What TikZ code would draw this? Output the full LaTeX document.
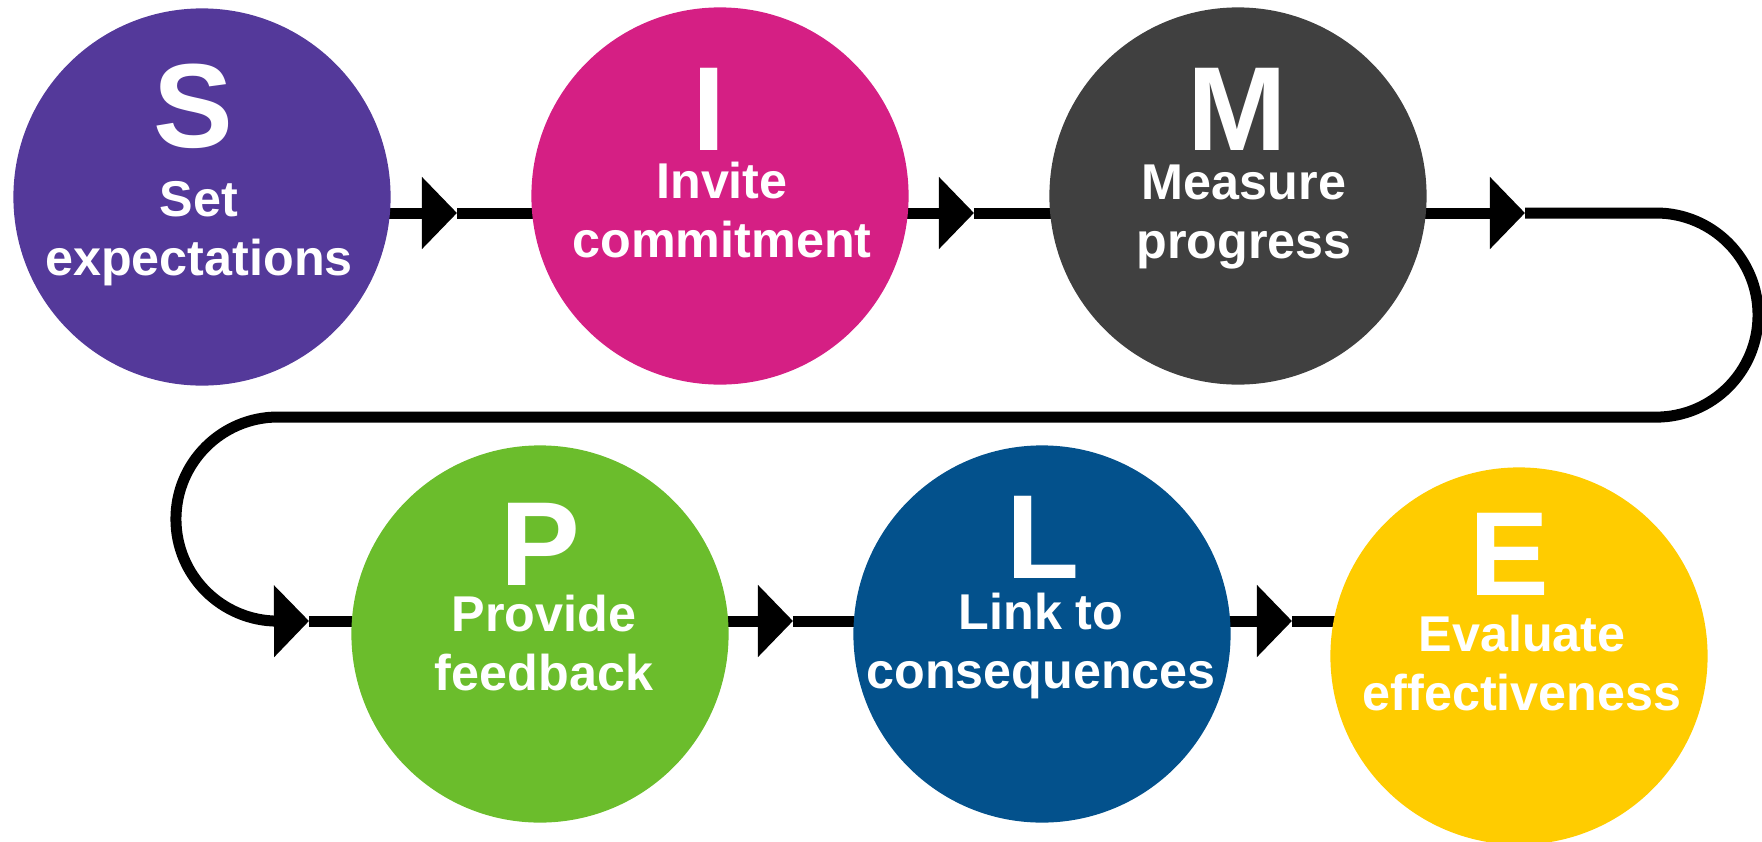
\documentclass[tikz,border=0pt]{standalone}
\usepackage{fontspec}
\setmainfont{Liberation Sans}
\usetikzlibrary{arrows.meta,backgrounds}
\definecolor{cS}{RGB}{84,57,154}
\definecolor{cI}{RGB}{213,31,132}
\definecolor{cM}{RGB}{64,64,64}
\definecolor{cP}{RGB}{107,189,44}
\definecolor{cL}{RGB}{3,81,140}
\definecolor{cE}{RGB}{255,204,0}
\tikzset{
  bubble/.style={circle, draw=none, minimum size=3.77cm, inner sep=0pt},
  bigletter/.style={text=white, font=\bfseries\fontsize{34}{34}\selectfont, inner sep=0pt, anchor=base},
  lab/.style={text=white, font=\bfseries\fontsize{14.3}{16.5}\selectfont, align=center, inner sep=0pt, anchor=base},
  conn/.style={line width=3.13pt, black},
  arr/.style={-{Triangle[length=0.35cm,width=0.70cm]}}
}
\begin{document}
\begin{tikzpicture}[x=0.01cm,y=-0.01cm]
\useasboundingbox (0,0) rectangle (1762,842);
% circles
\node[bubble, fill=cS] (S) at (202,197) {};
\node[bubble, fill=cI] (I) at (720,196) {};
\node[bubble, fill=cM] (M) at (1238,196) {};
\node[bubble, fill=cP] (P) at (540,634) {};
\node[bubble, fill=cL] (L) at (1042,634) {};
\node[bubble, fill=cE] (E) at (1519,656) {};
% big letters
\node[bigletter] (Sl) at (193,147) {S};
\node[bigletter] (Il) at (709,150) {I};
\node[bigletter] (Ml) at (1237,150) {M};
\node[bigletter] (Pl) at (540,585) {P};
\node[bigletter] (Ll) at (1043,578) {L};
\node[bigletter] (El) at (1509,595) {E};
% labels (base anchor = baseline of the last line)
\node[lab] (St) at (199,275) {Set\\expectations};
\node[lab] (It) at (722,257) {Invite\\commitment};
\node[lab] (Mt) at (1244,258) {Measure\\progress};
\node[lab] (Pt) at (544,690) {Provide\\feedback};
\node[lab] (Lt) at (1041,688) {Link to\\consequences};
\node[lab] (Et) at (1522,710) {Evaluate\\effectiveness};
% connector waypoints
\coordinate (a1) at (457,213);
\coordinate (a2) at (974,213);
\coordinate (a3) at (1525,213);
\coordinate (r1) at (1656,213);
\coordinate (l1) at (278,417);
\coordinate (a4) at (309,621);
\coordinate (a5) at (793,621);
\coordinate (a6) at (1292,621);
\begin{scope}[on background layer]
\draw[conn, arr] (S |- a1) -- (a1);
\draw[conn] (a1) -- (I |- a1);
\draw[conn, arr] (I |- a2) -- (a2);
\draw[conn] (a2) -- (M |- a2);
\draw[conn, arr] (M |- a3) -- (a3);
\draw[conn, arr] (a3) -- (r1) arc[start angle=90, end angle=-90, radius=1.02cm]
  -- (l1) arc[start angle=90, end angle=270, radius=1.02cm] -- (a4);
\draw[conn] (a4) -- (P |- a4);
\draw[conn, arr] (P |- a5) -- (a5);
\draw[conn] (a5) -- (L |- a5);
\draw[conn, arr] (L |- a6) -- (a6);
\draw[conn] (a6) -- (E |- a6);
\end{scope}
\end{tikzpicture}
\end{document}
